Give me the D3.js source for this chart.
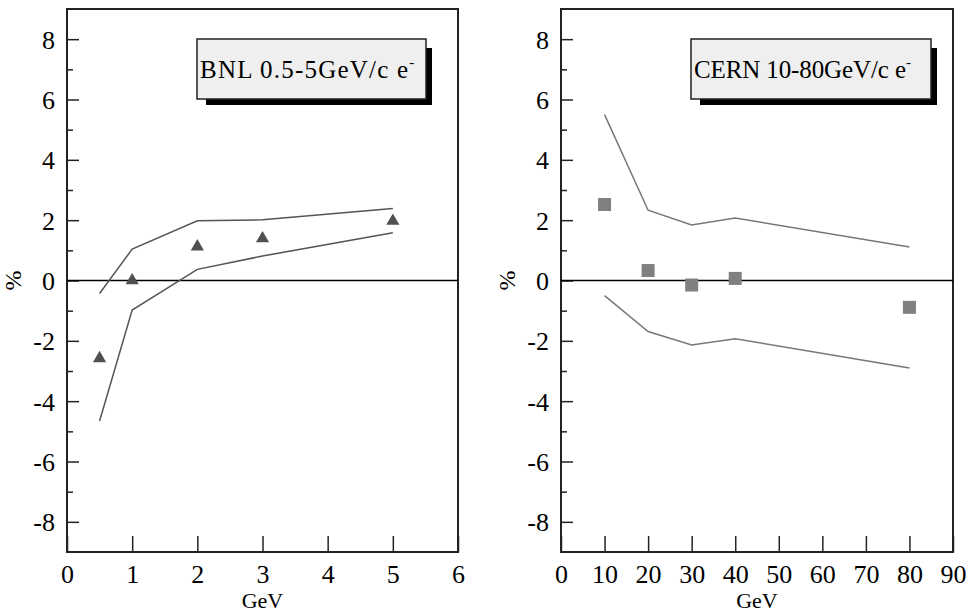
<!DOCTYPE html>
<html>
<head>
<meta charset="utf-8">
<script src="https://cdn.jsdelivr.net/npm/d3@7"></script>
<style>
  body { margin: 0; background: #fff; }
  svg { display: block; font-family: "Liberation Serif", "DejaVu Serif", serif; }
  svg text { font-family: "Liberation Serif", "DejaVu Serif", serif; }
</style>
</head>
<body>
<div id="chart"></div>
<script>
// BNL panel
const bnlEnergy = [0.5, 1, 2, 3, 5];
const bnlPoints = [-2.58, 0.0, 1.12, 1.39, 1.97];
const bnlUpper = [-0.43, 1.04, 1.98, 2.01, 2.39];
const bnlLower = [-4.66, -0.98, 0.37, 0.81, 1.58];
const bnlXTicks = [0, 1, 2, 3, 4, 5, 6];

// CERN panel
const cernEnergy = [10, 20, 30, 40, 80];
const cernPoints = [2.52, 0.33, -0.15, 0.07, -0.89];
const cernUpper = [5.5, 2.33, 1.84, 2.07, 1.11];
const cernLower = [-0.5, -1.69, -2.14, -1.93, -2.9];
const cernXTicks = [0, 10, 20, 30, 40, 50, 60, 70, 80, 90];

const yMajor = [-8, -6, -4, -2, 0, 2, 4, 6, 8];
const yMinor = [-7, -5, -3, -1, 1, 3, 5, 7];

const W = 968, H = 614;
const plotTop = 9, plotBottom = 552;
const serif = "Liberation Serif";

const svg = d3.select("#chart")
  .append("svg")
  .attr("width", W)
  .attr("height", H);

// plain hyphen for negatives, like the original
const fmt = d => String(d);

function drawPanel(p) {
  let x = d3.scaleLinear().domain(p.xDomain).range([p.left, p.right]);
  let y = d3.scaleLinear().domain([-9, 9]).range([plotBottom, plotTop]);

  let g = svg.append("g");

  // y axis, major + minor
  let ya = g.append("g")
    .attr("transform", "translate(" + p.left + ",0)")
    .call(d3.axisLeft(y).tickValues(yMajor).tickSize(-12).tickPadding(12).tickFormat(fmt))
    .attr("font-family", serif);
  ya.select(".domain").remove();
  ya.selectAll("line").attr("stroke", "#222").attr("stroke-width", 1.5);
  ya.selectAll("text").attr("font-size", 26).attr("fill", "#000")
    .style("font-family", serif).attr("dy", "0.35em");

  let ym = g.append("g")
    .attr("transform", "translate(" + p.left + ",0)")
    .call(d3.axisLeft(y).tickValues(yMinor).tickSize(-6).tickFormat(""));
  ym.select(".domain").remove();
  ym.selectAll("line").attr("stroke", "#222").attr("stroke-width", 1.5);

  // x axis
  let xa = g.append("g")
    .attr("transform", "translate(0," + plotBottom + ")")
    .call(d3.axisBottom(x).tickValues(p.xTicks).tickSize(-16).tickFormat(fmt))
    .attr("font-family", serif);
  xa.select(".domain").remove();
  xa.selectAll("line").attr("stroke", "#222").attr("stroke-width", 1.5);
  xa.selectAll("text").attr("font-size", 26).attr("fill", "#000")
    .style("font-family", serif).attr("y", 31).attr("dy", 0);

  // frame
  g.append("rect")
    .attr("x", p.left).attr("y", plotTop)
    .attr("width", p.right - p.left).attr("height", plotBottom - plotTop)
    .attr("fill", "none").attr("stroke", "#222").attr("stroke-width", 2);

  // zero line
  g.append("line")
    .attr("x1", p.left).attr("x2", p.right)
    .attr("y1", y(0)).attr("y2", y(0))
    .attr("stroke", "#000").attr("stroke-width", 1.5);

  // axis titles
  g.append("text")
    .attr("x", (p.left + p.right) / 2).attr("y", 608)
    .attr("text-anchor", "middle").attr("font-size", 22)
    .text("GeV");
  g.append("text")
    .attr("transform", "translate(" + (p.left - 46) + "," + y(0) + ") rotate(-90)")
    .attr("text-anchor", "middle").attr("font-size", 24)
    .text("%");

  // band lines
  let line = d3.line().x(d => x(d[0])).y(d => y(d[1]));
  [p.upper, p.lower].forEach(vals => {
    g.append("path")
      .datum(p.energy.map((e, i) => [e, vals[i]]))
      .attr("d", line)
      .attr("fill", "none")
      .attr("stroke", p.lineColor)
      .attr("stroke-width", 1.5);
  });

  // points
  let sym = d3.symbol().type(p.symbol).size(p.symbolSize);
  g.selectAll(".pt")
    .data(p.points)
    .enter()
    .append("path")
    .attr("class", "pt")
    .attr("transform", (d, i) => "translate(" + x(p.energy[i]) + "," + y(d) + ")")
    .attr("d", sym)
    .attr("fill", p.pointColor);

  // legend box with shadow
  let b = p.box;
  g.append("rect")
    .attr("x", b.x + 9).attr("y", b.y + 9)
    .attr("width", b.w - 3).attr("height", b.h - 3)
    .attr("fill", "#000");
  g.append("rect")
    .attr("x", b.x).attr("y", b.y)
    .attr("width", b.w).attr("height", b.h)
    .attr("fill", "#efefef").attr("stroke", "#222").attr("stroke-width", 1.5);
  let t = g.append("text")
    .attr("x", b.x + 3).attr("y", b.y + 39)
    .attr("font-size", 25);
  t.append("tspan")
    .attr("textLength", p.titleWidth).attr("lengthAdjust", "spacing")
    .text(p.title);
  t.append("tspan")
    .attr("font-size", 15).attr("dy", -11)
    .text("-");
}

drawPanel({
  left: 67, right: 458,
  xDomain: [0, 6], xTicks: bnlXTicks,
  energy: bnlEnergy, points: bnlPoints, upper: bnlUpper, lower: bnlLower,
  lineColor: "#555", pointColor: "#505050",
  symbol: d3.symbolTriangle, symbolSize: 75,
  box: { x: 197, y: 39, w: 229, h: 60 },
  title: "BNL 0.5-5GeV/c e", titleWidth: 208
});

drawPanel({
  left: 561, right: 953,
  xDomain: [0, 90], xTicks: cernXTicks,
  energy: cernEnergy, points: cernPoints, upper: cernUpper, lower: cernLower,
  lineColor: "#777", pointColor: "#808080",
  symbol: d3.symbolSquare, symbolSize: 169,
  box: { x: 691, y: 39, w: 240, h: 60 },
  title: "CERN 10-80GeV/c e", titleWidth: 212
});
</script>
</body>
</html>
